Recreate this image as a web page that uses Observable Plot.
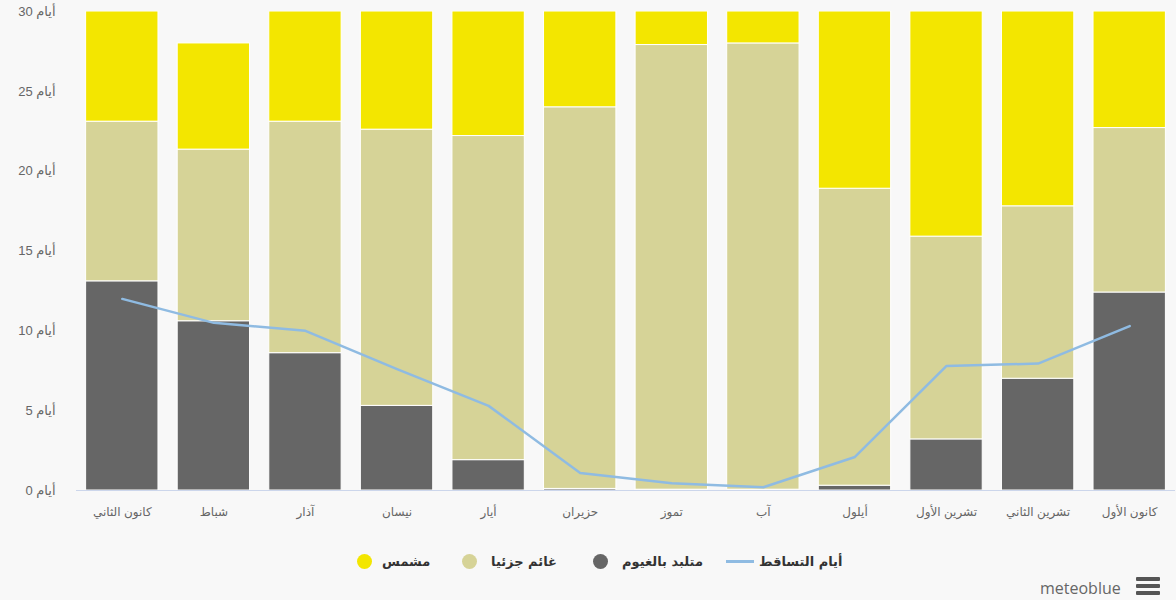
<!DOCTYPE html>
<html><head><meta charset="utf-8">
<script src="https://cdn.jsdelivr.net/npm/d3@7"></script>
<script src="https://cdn.jsdelivr.net/npm/@observablehq/plot@0.6"></script>
<style>
body{margin:0;background:#f8f8f8;font-family:"Liberation Sans","DejaVu Sans",sans-serif;width:1176px;height:600px;overflow:hidden;position:relative}
#legend{position:absolute;top:554px;left:0;width:1176px;height:22px}
.item{position:absolute;display:flex;align-items:center;font-size:13px;font-weight:bold;color:#333;font-family:"DejaVu Sans",sans-serif}
.dot{width:15px;height:15px;border-radius:50%;display:inline-block}
.ln{width:28px;height:3px;background:#8fbbe2;display:inline-block}
#brand{position:absolute;left:1040px;top:577px;font-size:16px;color:#666;font-family:"Open Sans","Liberation Sans",sans-serif}
.hb{position:absolute;left:1136px;width:24px;height:4px;background:#555;border-radius:1px}
</style></head>
<body>
<div id="chart"></div>
<div id="legend">
  <div class="item" style="left:357px"><span class="dot" style="background:#f3e600"></span><span style="margin-left:10px">مشمس</span></div>
  <div class="item" style="left:462px"><span class="dot" style="background:#d6d397"></span><span style="margin-left:14px">غائم جزئيا</span></div>
  <div class="item" style="left:593px"><span class="dot" style="background:#666666"></span><span style="margin-left:14px">متلبد بالغيوم</span></div>
  <div class="item" style="left:726px"><span class="ln"></span><span style="margin-left:5px">أيام التساقط</span></div>
</div>
<div id="brand">meteoblue</div>
<div class="hb" style="top:577px"></div>
<div class="hb" style="top:584px"></div>
<div class="hb" style="top:591px"></div>
<script>
const months = ["كانون الثاني","شباط","آذار","نيسان","أيار","حزيران","تموز","آب","أيلول","تشرين الأول","تشرين الثاني","كانون الأول"];
const overcast = [13.1, 10.6, 8.6, 5.3, 1.9, 0.1, 0.05, 0.05, 0.3, 3.2, 7.0, 12.4];
const partly   = [10.0, 10.75, 14.5, 17.3, 20.3, 23.9, 27.85, 27.95, 18.6, 12.7, 10.8, 10.3];
const sunny    = [6.9, 6.65, 6.9, 7.4, 7.8, 6.0, 2.1, 2.0, 11.1, 14.1, 12.2, 7.3];
const precip   = [12.0, 10.5, 10.0, 7.6, 5.3, 1.1, 0.45, 0.2, 2.1, 7.8, 7.95, 10.3];
const yTicks = [0, 5, 10, 15, 20, 25, 30];
const types = ["overcast","partly","sunny"];
const typeColors = ["#666666","#d6d397","#f3e600"];

const rows = [];
months.forEach((m, i) => {
  rows.push({month: m, type: "overcast", v: overcast[i]});
  rows.push({month: m, type: "partly", v: partly[i]});
  rows.push({month: m, type: "sunny", v: sunny[i]});
});
const line = months.map((m, i) => ({month: m, v: precip[i]}));

const chart = Plot.plot({
  width: 1176, height: 530,
  marginTop: 11, marginBottom: 40, marginLeft: 76, marginRight: 1,
  style: {background: "transparent", fontFamily: "'Liberation Sans','DejaVu Sans',sans-serif"},
  x: {domain: months, paddingInner: 0.21, paddingOuter: 0.105, round: false, label: null},
  y: {domain: [0, 30], label: null},
  color: {domain: types, range: typeColors},
  marks: [
    Plot.gridY(yTicks.filter(d => d > 0), {stroke: "#e6e6e6", strokeOpacity: 1, x1: 76, x2: 1176}),
    Plot.ruleY([0], {stroke: "#ccd6eb", strokeWidth: 1}),
    Plot.barY(rows, Plot.stackY({order: types}, {x: "month", y: "v", z: "type", fill: "type", stroke: "#ffffff", strokeWidth: 1, clip: true})),
    Plot.line(line, {x: "month", y: "v", stroke: "#8fbbe2", strokeWidth: 2.5}),
    Plot.axisY(yTicks, {tickSize: 0, tickPadding: 0, dx: -21, fontSize: 13, fill: "#666", tickFormat: d => `${d} أيام`}),
    Plot.axisX({tickSize: 0, tickPadding: 17, fontSize: 12, fill: "#666"})
  ]
});
document.getElementById("chart").appendChild(chart);
</script>
</body></html>
